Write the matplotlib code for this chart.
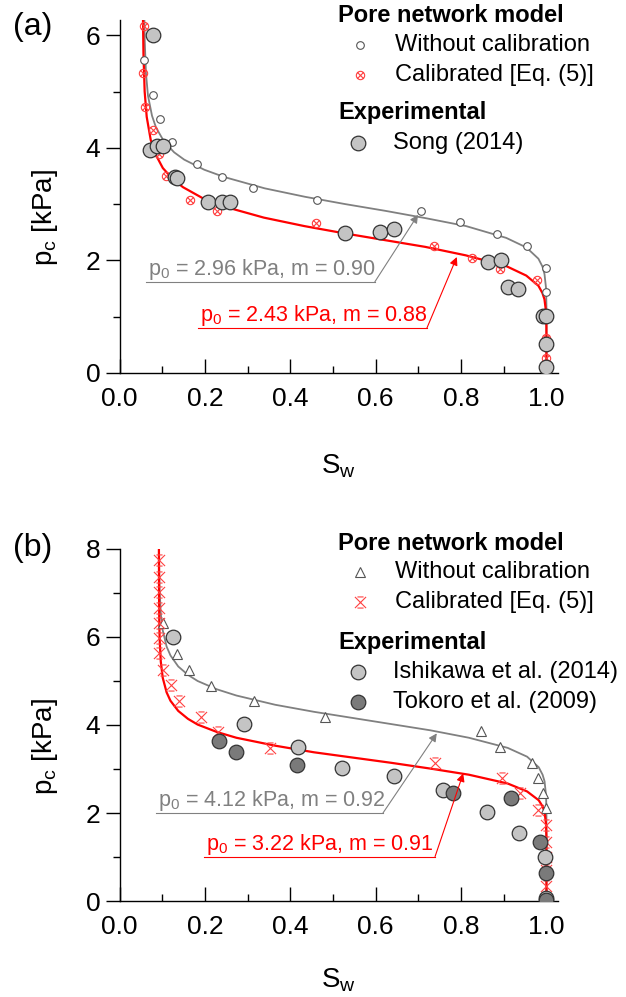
import matplotlib
matplotlib.use('Agg')
import matplotlib.pyplot as plt
from matplotlib.path import Path
from matplotlib.ticker import MultipleLocator

plt.rcParams['font.family'] = ['Liberation Sans', 'DejaVu Sans']
plt.rcParams['mathtext.default'] = 'regular'

# ---- panel (a) data ----
sw_a_nocal = [0.057, 0.079, 0.095, 0.123, 0.181, 0.241, 0.313, 0.462, 0.707, 0.797, 0.883, 0.955, 0.998, 1.0]
pc_a_nocal = [5.56, 4.93, 4.52, 4.11, 3.71, 3.49, 3.28, 3.08, 2.88, 2.68, 2.47, 2.26, 1.86, 1.43]
sw_a_cal = [0.056, 0.054, 0.060, 0.078, 0.092, 0.108, 0.165, 0.227, 0.460, 0.737, 0.825, 0.891, 0.977, 1.0, 1.0]
pc_a_cal = [6.16, 5.33, 4.72, 4.32, 3.89, 3.50, 3.08, 2.87, 2.67, 2.26, 2.05, 1.84, 1.65, 0.63, 0.26]
sw_song = [0.079, 0.071, 0.087, 0.101, 0.130, 0.135, 0.208, 0.239, 0.259, 0.528, 0.610, 0.643,
           0.862, 0.893, 0.909, 0.934, 0.992, 1.0, 1.0, 1.0]
pc_song = [6.00, 3.96, 4.04, 4.04, 3.49, 3.46, 3.03, 3.04, 3.03, 2.48, 2.50, 2.55,
           1.98, 2.00, 1.52, 1.50, 1.01, 1.01, 0.51, 0.10]

# fitted curves
sw_fit_a_nocal = [0.0579, 0.0589, 0.0617, 0.0664, 0.0759, 0.0853, 0.1042, 0.1277, 0.1513, 0.1985, 0.2456,
                  0.3399, 0.4342, 0.5285, 0.6228, 0.7171, 0.8114, 0.9057, 0.9529, 0.9811, 0.9906, 0.9953,
                  0.9991, 0.9999, 1.0]
pc_fit_a_nocal = [6.38, 5.90, 5.33, 4.93, 4.57, 4.36, 4.11, 3.92, 3.79, 3.61, 3.48,
                  3.28, 3.13, 3.00, 2.88, 2.75, 2.61, 2.40, 2.23, 2.03, 1.89, 1.76,
                  1.50, 1.19, 0.0]
sw_fit_a_cal = [0.0545, 0.0549, 0.0559, 0.0587, 0.0635, 0.0729, 0.0824, 0.1013, 0.1250, 0.1486, 0.1959,
                0.2432, 0.3378, 0.4324, 0.5270, 0.6216, 0.7162, 0.8108, 0.9054, 0.9527, 0.9811, 0.9905,
                0.9953, 0.9991, 0.9999, 1.0]
pc_fit_a_cal = [6.85, 6.23, 5.67, 5.00, 4.55, 4.14, 3.91, 3.64, 3.44, 3.30, 3.10,
                2.96, 2.76, 2.61, 2.48, 2.36, 2.24, 2.09, 1.90, 1.73, 1.55, 1.42,
                1.31, 1.08, 0.82, 0.0]

# ---- panel (b) data ----
sw_b_nocal = [0.102, 0.134, 0.163, 0.213, 0.315, 0.481, 0.846, 0.891, 0.967, 0.981, 0.992, 1.0]
pc_b_nocal = [6.31, 5.61, 5.25, 4.89, 4.55, 4.19, 3.86, 3.49, 3.14, 2.80, 2.46, 2.11]
sw_b_cal = [0.093, 0.093, 0.093, 0.093, 0.093, 0.093, 0.093, 0.102, 0.120, 0.138, 0.190, 0.231, 0.352,
            0.739, 0.895, 0.938, 0.981, 1.0, 1.0, 1.0, 1.0, 1.0]
pc_b_cal = [7.75, 7.37, 7.03, 6.65, 6.31, 5.97, 5.63, 5.25, 4.91, 4.55, 4.19, 3.85, 3.47,
            3.13, 2.79, 2.45, 2.07, 1.73, 1.35, 1.00, 0.70, 0.33]
sw_ishikawa = [0.126, 0.291, 0.419, 0.522, 0.643, 0.757, 0.861, 0.936, 0.996, 1.0]
pc_ishikawa = [6.01, 4.02, 3.51, 3.02, 2.84, 2.52, 2.03, 1.54, 1.01, 0.06]
sw_tokoro = [0.233, 0.273, 0.415, 0.780, 0.917, 0.986, 0.998, 1.0]
pc_tokoro = [3.64, 3.38, 3.08, 2.45, 2.33, 1.35, 0.63, 0.02]

sw_fit_b_nocal = [0.0925, 0.0929, 0.0938, 0.0965, 0.1011, 0.1102, 0.1192, 0.1374, 0.1601, 0.1828, 0.2282,
                  0.2736, 0.3644, 0.4552, 0.5460, 0.6368, 0.7276, 0.8184, 0.9092, 0.9546, 0.9818, 0.9909,
                  0.9955, 0.9991, 0.9999, 1.0]
pc_fit_b_nocal = [7.98, 7.51, 7.07, 6.53, 6.15, 5.78, 5.58, 5.33, 5.14, 5.00, 4.81,
                  4.67, 4.46, 4.30, 4.16, 4.02, 3.88, 3.71, 3.48, 3.28, 3.04, 2.87,
                  2.72, 2.39, 1.99, 0.0]
sw_fit_b_cal = [0.0921, 0.0925, 0.0929, 0.0938, 0.0965, 0.1011, 0.1102, 0.1192, 0.1374, 0.1601, 0.1828,
                0.2282, 0.2736, 0.3644, 0.4552, 0.5460, 0.6368, 0.7276, 0.8184, 0.9092, 0.9546, 0.9818,
                0.9909, 0.9955, 0.9991, 0.9999, 1.0]
pc_fit_b_cal = [8.01, 6.83, 6.38, 5.95, 5.44, 5.07, 4.74, 4.55, 4.32, 4.14, 4.01,
                3.84, 3.71, 3.53, 3.38, 3.26, 3.14, 3.01, 2.87, 2.67, 2.49, 2.29,
                2.15, 2.02, 1.74, 1.42, 0.0]

GRAY = '#808080'
RED = '#ff0000'
LIGHT = '#c4c4c4'
DARK = '#7a7a7a'

# custom markers
M, L = Path.MOVETO, Path.LINETO
circ = Path.unit_circle()
cross = Path([[-0.7, -0.7], [0.7, 0.7], [-0.7, 0.7], [0.7, -0.7]], [M, L, M, L])
circle_x = Path.make_compound_path(circ, cross)
bar_x = Path([[-1, -1], [1, 1], [-1, 1], [1, -1], [-0.55, 1], [0.55, 1], [-0.55, -1], [0.55, -1]],
             [M, L, M, L, M, L, M, L])

W, H = 626, 997
fig = plt.figure(figsize=(W / 100, H / 100), dpi=100)


def fx(px):
    return px / W


def fy(py):
    return 1 - py / H


ax_a = fig.add_axes([fx(119.6), fy(373), fx(558) - fx(119.6), 353 / H])
ax_b = fig.add_axes([fx(119.6), fy(901), fx(558) - fx(119.6), 352 / H])

style_nocal_a = dict(ls='none', marker='o', ms=5.5, mfc='white', mec='#555555', mew=0.8)
style_cal_a = dict(ls='none', marker=circle_x, ms=6, mfc='none', mec='#ff4040', mew=0.8)
style_nocal_b = dict(ls='none', marker='^', ms=7, mfc='white', mec='#555555', mew=0.8)
style_cal_b = dict(ls='none', marker=bar_x, ms=8, mfc='none', mec='#ff4040', mew=0.8)
style_light = dict(ls='none', marker='o', ms=10.5, mfc=LIGHT, mec='#333333', mew=0.9)
style_dark = dict(ls='none', marker='o', ms=10.5, mfc=DARK, mec='#333333', mew=0.9)

# panel a
ax_a.plot(sw_fit_a_nocal, pc_fit_a_nocal, color=GRAY, lw=1.3, zorder=2)
ax_a.plot(sw_fit_a_cal, pc_fit_a_cal, color=RED, lw=1.6, zorder=2)
ax_a.plot(sw_a_nocal, pc_a_nocal, zorder=3, **style_nocal_a)
ax_a.plot(sw_a_cal, pc_a_cal, zorder=3, **style_cal_a)
ax_a.plot(sw_song, pc_song, zorder=4, **style_light)

# panel b
ax_b.plot(sw_fit_b_nocal, pc_fit_b_nocal, color=GRAY, lw=1.3, zorder=2)
ax_b.plot(sw_fit_b_cal, pc_fit_b_cal, color=RED, lw=1.6, zorder=2)
ax_b.plot(sw_b_nocal, pc_b_nocal, zorder=3, **style_nocal_b)
ax_b.plot(sw_b_cal, pc_b_cal, zorder=3, **style_cal_b)
ax_b.plot(sw_ishikawa, pc_ishikawa, zorder=4, **style_light)
ax_b.plot(sw_tokoro, pc_tokoro, zorder=4, **style_dark)

ax_a.set_ylim(0, 6.27)
ax_b.set_ylim(0, 8)
ax_a.yaxis.set_major_locator(MultipleLocator(2))
ax_b.yaxis.set_major_locator(MultipleLocator(2))

for ax, pad in ((ax_a, 30), (ax_b, 20)):
    ax.set_xlim(0, 1.027)
    ax.xaxis.set_major_locator(MultipleLocator(0.2))
    ax.xaxis.set_minor_locator(MultipleLocator(0.1))
    ax.yaxis.set_minor_locator(MultipleLocator(1))
    ax.xaxis.set_major_formatter(matplotlib.ticker.FormatStrFormatter('%.1f'))
    for s in ('top', 'right'):
        ax.spines[s].set_visible(False)
    for s in ('left', 'bottom'):
        ax.spines[s].set_linewidth(1.0)
    ax.tick_params(axis='x', which='major', direction='in', length=10, width=1, labelsize=19, pad=10)
    ax.tick_params(axis='x', which='minor', direction='in', length=5, width=1)
    ax.tick_params(axis='y', which='major', direction='out', length=10, width=1, labelsize=19, pad=4)
    ax.tick_params(axis='y', which='minor', direction='out', length=5, width=1)
    ax.set_xlabel('S$_w$', fontsize=20, labelpad=pad)
    ax.set_ylabel('p$_c$ [kPa]', fontsize=20)
    ax.yaxis.set_label_coords(-0.135, 0.44)


def fit_label(ax, txt, x0, y0, x1, tip, color):
    ax.text(x0, y0, txt, color=color, fontsize=15.5, ha='left', va='bottom', zorder=5)
    ax.plot([x0 - 0.004, x1], [y0, y0], color=color, lw=0.8, zorder=5)
    ax.annotate('', xy=tip, xytext=(x1, y0),
                arrowprops=dict(arrowstyle='-|>', color=color, lw=0.8, mutation_scale=12,
                                shrinkA=0, shrinkB=0), zorder=5)


fit_label(ax_a, 'p$_0$ = 2.96 kPa, m = 0.90', 0.066, 1.62, 0.598, (0.699, 2.81), GRAY)
fit_label(ax_a, 'p$_0$ = 2.43 kPa, m = 0.88', 0.188, 0.80, 0.720, (0.790, 2.06), RED)
fit_label(ax_b, 'p$_0$ = 4.12 kPa, m = 0.92', 0.090, 2.00, 0.617, (0.743, 3.81), GRAY)
fit_label(ax_b, 'p$_0$ = 3.22 kPa, m = 0.91', 0.202, 1.01, 0.739, (0.805, 2.90), RED)

# panel labels
fig.text(fx(13), fy(27), '(a)', fontsize=23, ha='left', va='center')
fig.text(fx(13), fy(548), '(b)', fontsize=23, ha='left', va='center')


# legends (hand placed)
def leg_marker(py, px, style):
    st = dict(style)
    fig.add_artist(matplotlib.lines.Line2D([fx(px)], [fy(py)], transform=fig.transFigure, **st))


def leg_text(py, px, txt, bold=False):
    fig.text(fx(px), fy(py), txt, fontsize=17, ha='left', va='center',
             fontweight='bold' if bold else 'normal')


leg_text(15, 338, 'Pore network model', True)
leg_marker(45, 360, style_nocal_a)
leg_text(45, 395, 'Without calibration')
leg_marker(75, 360, style_cal_a)
leg_text(75, 395, 'Calibrated [Eq. (5)]')
leg_text(113, 338, 'Experimental', True)
leg_marker(143, 358, style_light)
leg_text(143, 393, 'Song (2014)')

leg_text(543, 338, 'Pore network model', True)
leg_marker(572, 360, style_nocal_b)
leg_text(572, 395, 'Without calibration')
leg_marker(602, 360, style_cal_b)
leg_text(602, 395, 'Calibrated [Eq. (5)]')
leg_text(642, 338, 'Experimental', True)
leg_marker(672, 358, style_light)
leg_text(672, 393, 'Ishikawa et al. (2014)')
leg_marker(702, 358, style_dark)
leg_text(702, 393, 'Tokoro et al. (2009)')

fig.savefig('out.png', dpi=100)
